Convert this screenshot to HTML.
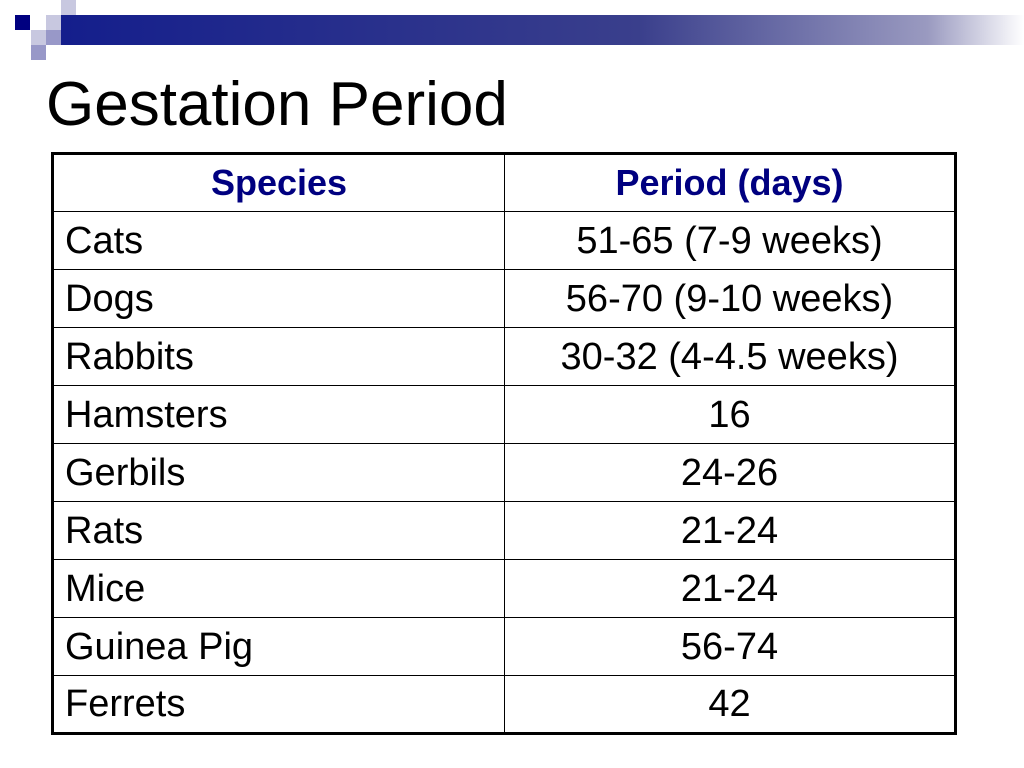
<!DOCTYPE html>
<html><head><meta charset="utf-8"><style>
body{margin:0;width:1024px;height:768px;background:#fff;position:relative;overflow:hidden;font-family:"Liberation Sans",Arial,sans-serif}
.sq{position:absolute;width:15px;height:15px}
h1{position:absolute;left:46px;top:70px;margin:0;font-weight:normal;font-size:62px;color:#000;line-height:70px}
table{position:absolute;left:51px;top:152px;width:906px;border-collapse:collapse;border:3px solid #000;table-layout:fixed}
tr{height:58px}
td{border:1.5px solid #000;font-size:38px;line-height:40px;padding:0 0 0 11px;color:#000;overflow:hidden}
td.c{text-align:center;padding:0}
th{border:1.5px solid #000;font-size:36px;line-height:40px;color:#000080;font-weight:bold;padding:0}
</style></head><body>
<div>
<div class="sq" style="left:15px;top:15px;background:#000080"></div>
<div class="sq" style="left:46px;top:15px;background:#c8c8e0"></div>
<div class="sq" style="left:61px;top:0;background:#c8c8e0"></div>
<div class="sq" style="left:61px;top:15px;background:#9898c8"></div>
<div class="sq" style="left:31px;top:30px;background:#c8c8e0"></div>
<div class="sq" style="left:46px;top:30px;background:#9898c8"></div>
<div class="sq" style="left:31px;top:45px;background:#9898c8"></div>
<div style="position:absolute;left:61px;top:15px;width:963px;height:30px;background:linear-gradient(to right,#141e8c,#3a3f8c 60%,#9a9ac0 90%,#fff)"></div>
</div>
<h1>Gestation Period</h1>
<table>
<colgroup><col style="width:452px"><col></colgroup>
<tr><th>Species</th><th>Period (days)</th></tr>
<tr><td>Cats</td><td class="c">51-65 (7-9 weeks)</td></tr>
<tr><td>Dogs</td><td class="c">56-70 (9-10 weeks)</td></tr>
<tr><td>Rabbits</td><td class="c">30-32 (4-4.5 weeks)</td></tr>
<tr><td>Hamsters</td><td class="c">16</td></tr>
<tr><td>Gerbils</td><td class="c">24-26</td></tr>
<tr><td>Rats</td><td class="c">21-24</td></tr>
<tr><td>Mice</td><td class="c">21-24</td></tr>
<tr><td>Guinea Pig</td><td class="c">56-74</td></tr>
<tr><td>Ferrets</td><td class="c">42</td></tr>
</table>
</body></html>
